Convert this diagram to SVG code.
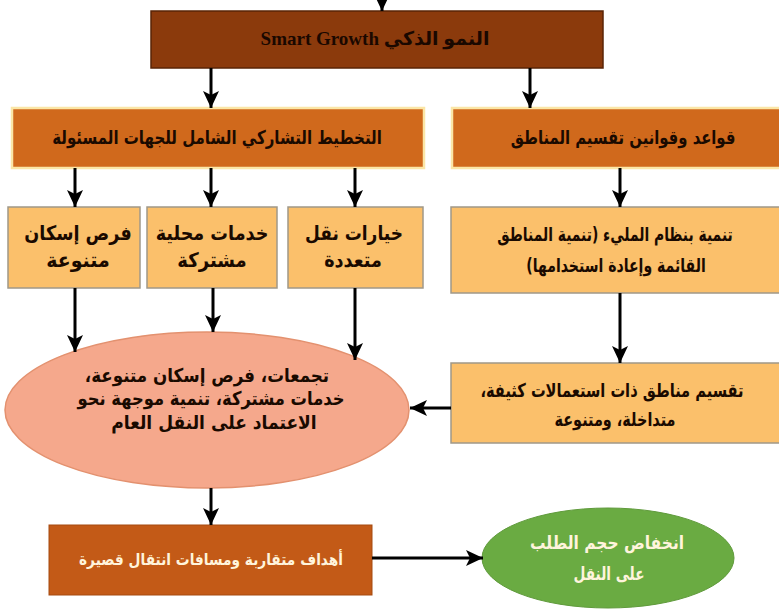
<svg xmlns="http://www.w3.org/2000/svg" width="779" height="610" viewBox="0 0 779 610">
<style>
.ar{font-family:"DejaVu Sans",sans-serif;font-weight:bold;text-anchor:middle;direction:rtl;dominant-baseline:middle}
.dk{fill:#1a0a00}
.lt{fill:#fff4dc}
.conn line{stroke:#000;stroke-width:3;marker-end:url(#ah)}
.light{fill:#fbc06b;stroke:#a09888;stroke-width:1.5}
.mid{fill:#d0691c;stroke:#fbe6a6;stroke-width:2.5}
</style>
<defs>
<marker id="ah" markerUnits="userSpaceOnUse" markerWidth="18" markerHeight="18" viewBox="0 0 18 18" refX="17" refY="9" orient="auto">
<path d="M0,1 L17,9 L0,17 L4,9 z" fill="#000"/>
</marker>
</defs>
<rect width="779" height="610" fill="#fff"/>
<g id="top">
<rect x="151" y="11" width="452" height="57" fill="#8b3a0c" stroke="#5a2406" stroke-width="1.5"/>
<text x="375" y="41" font-family="'Liberation Serif','DejaVu Sans',serif" font-weight="bold" font-size="19" text-anchor="middle" direction="rtl" dominant-baseline="middle" fill="#1a0800">النمو الذكي Smart Growth</text>
</g>
<g id="planning">
<rect class="mid" x="12" y="108" width="412" height="60"/>
<text class="ar dk" transform="translate(217,138) scale(0.79,1)" font-size="19">التخطيط التشاركي الشامل للجهات المسئولة</text>
</g>
<g id="zoning">
<rect class="mid" x="452" y="108" width="330" height="60"/>
<text class="ar dk" transform="translate(623,138) scale(0.78,1)" font-size="19">قواعد وقوانين تقسيم المناطق</text>
</g>
<g id="housing">
<rect class="light" x="8" y="207" width="132" height="81"/>
<text class="ar dk" transform="translate(78,234) scale(0.88,1)" font-size="20">فرص إسكان</text>
<text class="ar dk" transform="translate(78,261) scale(0.95,1)" font-size="20">متنوعة</text>
</g>
<g id="services">
<rect class="light" x="147" y="207" width="130" height="81"/>
<text class="ar dk" transform="translate(212,234) scale(0.88,1)" font-size="20">خدمات محلية</text>
<text class="ar dk" transform="translate(212,261) scale(0.9,1)" font-size="20">مشتركة</text>
</g>
<g id="transport">
<rect class="light" x="288" y="207" width="135" height="81"/>
<text class="ar dk" transform="translate(354,234) scale(0.85,1)" font-size="20">خيارات نقل</text>
<text class="ar dk" transform="translate(353,261) scale(0.88,1)" font-size="20">متعددة</text>
</g>
<g id="infill">
<rect class="light" x="451" y="207" width="331" height="86"/>
<text class="ar dk" transform="translate(615,236) scale(0.73,1)" font-size="19">تنمية بنظام المليء (تنمية المناطق</text>
<text class="ar dk" transform="translate(616,267) scale(0.74,1)" font-size="19">القائمة وإعادة استخدامها)</text>
</g>
<g id="mixeduse">
<rect class="light" x="451" y="363" width="331" height="80"/>
<text class="ar dk" transform="translate(612,391) scale(0.77,1)" font-size="19">تقسيم مناطق ذات استعمالات كثيفة،</text>
<text class="ar dk" transform="translate(615,420) scale(0.76,1)" font-size="19">متداخلة، ومتنوعة</text>
</g>
<g id="outcomes">
<ellipse cx="207" cy="410" rx="202" ry="78" fill="#f5a88c" stroke="#e3916f" stroke-width="1.5"/>
<text class="ar dk" transform="translate(207,377) scale(0.88,1)" font-size="19">تجمعات، فرص إسكان متنوعة،</text>
<text class="ar dk" transform="translate(211,400) scale(0.86,1)" font-size="19">خدمات مشتركة، تنمية موجهة نحو</text>
<text class="ar dk" transform="translate(214,424) scale(0.9,1)" font-size="19">الاعتماد على النقل العام</text>
</g>
<g id="destinations">
<rect x="49" y="525" width="323" height="70" fill="#c35a17" stroke="#a54a10" stroke-width="1"/>
<text class="ar lt" transform="translate(211,561) scale(0.86,1)" font-size="16">أهداف متقاربة ومسافات انتقال قصيرة</text>
</g>
<g id="demand">
<ellipse cx="608" cy="558" rx="126" ry="50" fill="#6aab42" stroke="#5f9a3b" stroke-width="1"/>
<text class="ar lt" transform="translate(607,544) scale(0.86,1)" font-size="18">انخفاض حجم الطلب</text>
<text class="ar lt" transform="translate(609,575) scale(0.76,1)" font-size="18">على النقل</text>
</g>
<g id="connectors" class="conn">
<line x1="382" y1="0" x2="382" y2="11"/>
<line x1="211" y1="68" x2="211" y2="108"/>
<line x1="530" y1="68" x2="530" y2="108"/>
<line x1="75" y1="168" x2="75" y2="207"/>
<line x1="211" y1="168" x2="211" y2="207"/>
<line x1="355" y1="168" x2="355" y2="207"/>
<line x1="620" y1="168" x2="620" y2="207"/>
<line x1="75" y1="288" x2="75" y2="352"/>
<line x1="213" y1="288" x2="213" y2="332"/>
<line x1="355" y1="288" x2="355" y2="360"/>
<line x1="620" y1="293" x2="620" y2="363"/>
<line x1="451" y1="408" x2="410" y2="408"/>
<line x1="211" y1="488" x2="211" y2="525"/>
<line x1="372" y1="558" x2="483" y2="558"/>
</g>
</svg>
